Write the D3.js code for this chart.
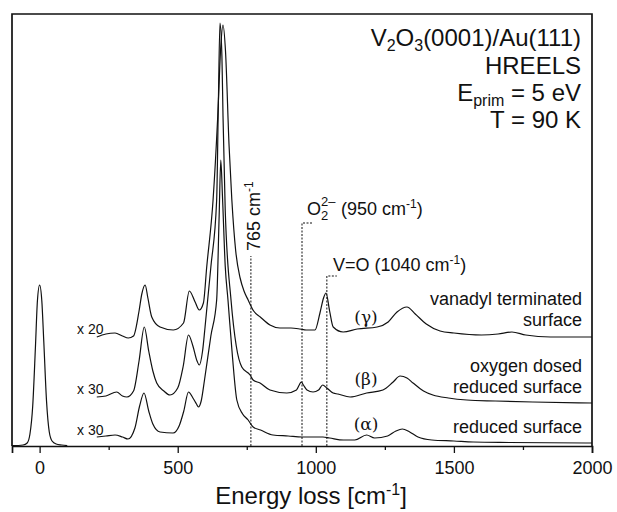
<!DOCTYPE html>
<html>
<head>
<meta charset="utf-8">
<script src="https://cdn.jsdelivr.net/npm/d3@7"></script>
<style>
body { margin: 0; background: #fff; }
svg { font-family: 'Liberation Sans', Arial, sans-serif; }
</style>
</head>
<body>
<div class="container"></div>
<script>
// energy loss [cm-1], intensity [arb. units]
const xTicks = [0, 500, 1000, 1500, 2000];
const xMinorTicks = [250, 750, 1250, 1750];

const elasticPeak = [[-100, 0.3], [-60, 1], [-45, 3], [-35, 12], [-25, 40], [-15, 100], [-8, 145], [0, 161],
    [8, 145], [15, 105], [25, 45], [35, 14], [45, 5], [60, 2], [80, 1], [100, 0.3]];

// (gamma) vanadyl terminated surface, x 20
const vanadylTerminated = [[207, 109], [240, 112], [273, 113], [300, 110], [321, 108], [340, 110], [360, 135],
    [370, 152], [382, 161], [392, 148], [406, 129], [436, 119], [484, 116], [521, 123], [542, 155], [563, 144],
    [578, 136], [593, 143], [605, 179], [628, 246], [645, 330], [656, 400], [664, 421], [673, 395], [686, 300],
    [696, 246], [710, 195], [726, 168], [740, 155], [755, 146], [775, 135], [799, 129], [834, 121], [870, 118],
    [910, 118], [943, 117], [965, 116], [997, 116], [1015, 133], [1028, 148], [1037, 153], [1050, 135],
    [1063, 119], [1099, 114], [1150, 117], [1222, 119], [1262, 124], [1294, 134], [1330, 139], [1360, 132],
    [1400, 122], [1450, 115], [1500, 113], [1600, 111], [1660, 112], [1710, 114], [1760, 111], [1850, 109],
    [2000, 109]];

// (beta) oxygen dosed reduced surface, x 30
const oxygenDosed = [[207, 49], [240, 50], [279, 54], [300, 50], [316, 49], [340, 55], [360, 85], [379, 119],
    [395, 95], [410, 75], [424, 63], [450, 55], [472, 51], [500, 58], [520, 80], [539, 111], [555, 100],
    [570, 85], [578, 81], [590, 95], [599, 119], [620, 179], [641, 246], [647, 340], [653, 423], [660, 390],
    [664, 330], [672, 236], [693, 146], [712, 100], [732, 79], [762, 71], [773, 66], [798, 63], [834, 56],
    [895, 53], [930, 56], [940, 61], [947, 64], [955, 61], [968, 56], [990, 54], [1010, 56], [1025, 61],
    [1040, 58], [1063, 53], [1080, 52], [1124, 49], [1184, 53], [1243, 56], [1280, 64], [1305, 70], [1330, 68],
    [1352, 63], [1390, 55], [1424, 51], [1480, 48], [1547, 46], [1650, 45], [1786, 44], [2000, 43]];

// (alpha) reduced surface, x 30
const reducedSurface = [[207, 9], [240, 10], [273, 11], [300, 9], [320, 7], [345, 18], [362, 40], [378, 53],
    [395, 35], [410, 22], [436, 14], [483, 13], [505, 20], [522, 35], [539, 54], [555, 48], [568, 42],
    [575, 39], [585, 45], [597, 66], [620, 110], [641, 146], [650, 230], [656, 286], [662, 250], [672, 180],
    [682, 146], [698, 90], [714, 46], [735, 32], [755, 26], [773, 19], [800, 16], [845, 11], [900, 10],
    [950, 9], [997, 9], [1026, 9], [1050, 8], [1100, 6], [1141, 6], [1184, 11], [1213, 8], [1260, 10],
    [1290, 15], [1313, 17], [1340, 14], [1370, 9], [1420, 6], [1500, 5], [1570, 4], [1700, 3.5], [2000, 3]];

const spectra = [vanadylTerminated, oxygenDosed, reducedSurface];
const factors = ['x 20', 'x 30', 'x 30'];
const greek = ['(\u03b3)', '(\u03b2)', '(\u03b1)'];
const surfaceNames = [['vanadyl terminated', 'surface'], ['oxygen dosed', 'reduced surface'], ['reduced surface']];
const markerPeaks = [765, 950, 1040];
const markerTops = [190, 223, 170];

const WIDTH = 617;
const HEIGHT = 512;

const svg = d3.select('.container').append('svg')
    .attr('width', WIDTH)
    .attr('height', HEIGHT);

const xScale = d3.scaleLinear().domain([-100, 2000]).range([12, 592]);
const yScale = d3.scaleLinear().domain([0, 432]).range([446, 14]);

// frame
svg.append('path')
    .attr('d', `M12,446V14H592V446`)
    .attr('fill', 'none')
    .attr('stroke', '#111')
    .attr('stroke-width', 1.7);

const xAxis = svg.append('g')
    .attr('transform', 'translate(0,446)')
    .call(d3.axisBottom(xScale).tickValues(xTicks).tickSize(7).tickPadding(8).tickFormat(d3.format('d')));
xAxis.select('.domain').attr('stroke', '#111').attr('stroke-width', 1.7);
xAxis.selectAll('.tick line').attr('stroke', '#111').attr('stroke-width', 1.3);
xAxis.selectAll('.tick text').attr('font-size', 18).attr('font-family', "'Liberation Sans', Arial, sans-serif").attr('fill', '#111');

svg.append('g')
    .attr('transform', 'translate(0,446)')
    .call(d3.axisBottom(xScale).tickValues(xMinorTicks).tickSize(4).tickFormat(''))
    .call(g => g.select('.domain').remove())
    .selectAll('.tick line').attr('stroke', '#111').attr('stroke-width', 1.3);

const line = d3.line()
    .x(d => xScale(d[0]))
    .y(d => yScale(d[1]))
    .curve(d3.curveMonotoneX);

svg.append('path').datum(elasticPeak)
    .attr('d', line)
    .attr('fill', 'none').attr('stroke', '#111').attr('stroke-width', 1.2);

svg.selectAll('.spectrum').data(spectra)
    .enter().append('path')
    .attr('class', 'spectrum')
    .attr('d', line)
    .attr('fill', 'none').attr('stroke', '#111').attr('stroke-width', 1.2);

// dashed markers
const stub = [0, 39, 36];
markerPeaks.forEach((e, i) => {
    let d = `M${xScale(e)},446V${yScale(markerTops[i])}`;
    if (stub[i]) d += `H${xScale(e + stub[i])}`;
    svg.append('path').attr('d', d)
        .attr('fill', 'none').attr('stroke', '#111').attr('stroke-width', 1)
        .attr('stroke-dasharray', '2,1.5');
});

// scale factors
const factorY = [334, 394, 435];
svg.selectAll('.factor').data(factors)
    .enter().append('text')
    .attr('class', 'factor')
    .attr('x', 77).attr('y', (d, i) => factorY[i])
    .attr('font-size', 14).attr('fill', '#111')
    .text(d => d);

const greekY = [323, 385, 430];
svg.selectAll('.greek').data(greek)
    .enter().append('text')
    .attr('class', 'greek')
    .attr('x', 366).attr('y', (d, i) => greekY[i])
    .attr('text-anchor', 'middle')
    .attr('font-size', 17).attr('font-family', "'DejaVu Serif', 'Liberation Serif', serif")
    .attr('fill', '#111')
    .text(d => d);

const nameY = [305, 372, 433];
surfaceNames.forEach((lines, i) => {
    lines.forEach((t, j) => {
        svg.append('text')
            .attr('x', 582).attr('y', nameY[i] + j * 21)
            .attr('text-anchor', 'end').attr('font-size', 18).attr('fill', '#111')
            .text(t);
    });
});

// title block
const title = svg.append('g').attr('font-size', 24).attr('fill', '#111').attr('text-anchor', 'end');
const t1 = title.append('text').attr('x', 581).attr('y', 46);
t1.append('tspan').text('V');
t1.append('tspan').attr('font-size', 16).attr('dy', 5).text('2');
t1.append('tspan').attr('dy', -5).text('O');
t1.append('tspan').attr('font-size', 16).attr('dy', 5).text('3');
t1.append('tspan').attr('dy', -5).text('(0001)/Au(111)');
title.append('text').attr('x', 581).attr('y', 74).text('HREELS');
const t3 = title.append('text').attr('x', 581).attr('y', 101);
t3.append('tspan').text('E');
t3.append('tspan').attr('font-size', 16).attr('dy', 5).text('prim');
t3.append('tspan').attr('dy', -5).text(' = 5 eV');
title.append('text').attr('x', 581).attr('y', 128).text('T = 90 K');

// annotations
const a1 = svg.append('text')
    .attr('transform', `translate(${xScale(765) + 9},251) rotate(-90)`)
    .attr('font-size', 18).attr('fill', '#111');
a1.append('tspan').text('765 cm');
a1.append('tspan').attr('font-size', 12).attr('dy', -7).text('-1');

svg.append('text').attr('x', 307).attr('y', 215).attr('font-size', 18).attr('fill', '#111').text('O');
svg.append('text').attr('x', 321).attr('y', 220).attr('font-size', 13).attr('fill', '#111').text('2');
svg.append('text').attr('x', 321).attr('y', 206).attr('font-size', 13).attr('fill', '#111').text('2\u2013');
const a2 = svg.append('text').attr('x', 341).attr('y', 215).attr('font-size', 18).attr('fill', '#111');
a2.append('tspan').text('(950 cm');
a2.append('tspan').attr('font-size', 12).attr('dy', -7).text('-1');
a2.append('tspan').attr('dy', 7).text(')');

const a3 = svg.append('text').attr('x', 333).attr('y', 271).attr('font-size', 18).attr('fill', '#111');
a3.append('tspan').text('V=O (1040 cm');
a3.append('tspan').attr('font-size', 12).attr('dy', -7).text('-1');
a3.append('tspan').attr('dy', 7).text(')');

// axis title
const xt = svg.append('text').attr('x', 311).attr('y', 504).attr('text-anchor', 'middle')
    .attr('font-size', 24).attr('fill', '#111');
xt.append('tspan').text('Energy loss [cm');
xt.append('tspan').attr('font-size', 16).attr('dy', -9).text('-1');
xt.append('tspan').attr('dy', 9).text(']');
</script>
</body>
</html>
